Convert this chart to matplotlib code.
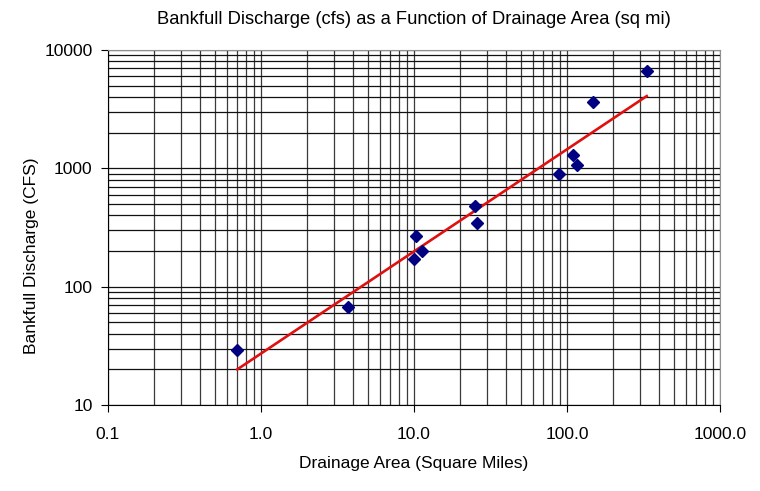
import numpy as np
import matplotlib
matplotlib.use("Agg")
import matplotlib.pyplot as plt
from matplotlib.ticker import LogLocator, FixedLocator, FixedFormatter, NullFormatter

plt.rcParams['font.family'] = ['Liberation Sans', 'DejaVu Sans']

# observed sites: drainage area (sq mi) and bankfull discharge (cfs)
area = [0.7, 3.7, 10.3, 10.0, 11.3, 25.0, 26.0, 89, 109, 116, 147, 332]
discharge = [29, 67, 268, 170, 200, 483, 343, 890, 1290, 1070, 3660, 6640]

# power trend line end points
trend_x = [0.7, 332]
trend_y = [20, 4080]

x_ticks = [0.1, 1, 10, 100, 1000]
x_labels = ['0.1', '1.0', '10.0', '100.0', '1000.0']
y_ticks = [10, 100, 1000, 10000]
y_labels = ['10', '100', '1000', '10000']

fig = plt.figure(figsize=(7.6, 4.91), dpi=100)
ax = fig.add_axes([108 / 760, 1 - 405 / 491, 612 / 760, 355 / 491])

ax.set_xscale('log')
ax.set_yscale('log')
ax.set_xlim(0.1, 1000)
ax.set_ylim(10, 10000)

ax.xaxis.set_major_locator(FixedLocator(x_ticks))
ax.xaxis.set_major_formatter(FixedFormatter(x_labels))
ax.yaxis.set_major_locator(FixedLocator(y_ticks))
ax.yaxis.set_major_formatter(FixedFormatter(y_labels))
ax.xaxis.set_minor_locator(LogLocator(base=10, subs=np.arange(2, 10)))
ax.yaxis.set_minor_locator(LogLocator(base=10, subs=np.arange(2, 10)))
ax.xaxis.set_minor_formatter(NullFormatter())
ax.yaxis.set_minor_formatter(NullFormatter())

ax.grid(True, axis='x', which='both', color='#3a3a3a', linewidth=0.9)
ax.grid(True, axis='y', which='both', color='#111111', linewidth=0.9)
ax.set_axisbelow(True)
ax.tick_params(which='major', direction='out', length=5, width=0.8, labelsize=12.5)
ax.tick_params(axis='x', which='major', pad=11)
ax.tick_params(axis='y', which='major', pad=6)
ax.tick_params(which='minor', length=0)

for side in ['top', 'right']:
    ax.spines[side].set_color('#909090')
for side in ['left', 'bottom']:
    ax.spines[side].set_color('black')
    ax.spines[side].set_linewidth(0.8)

ax.plot(trend_x, trend_y, color='#e01010', linewidth=1.9, zorder=3)
ax.plot(area, discharge, linestyle='none', marker='D', markersize=6,
        color='#000080', zorder=4)

ax.set_title('Bankfull Discharge (cfs) as a Function of Drainage Area (sq mi)',
             fontsize=13.2, pad=19)
ax.set_xlabel('Drainage Area (Square Miles)', fontsize=12.5, labelpad=10)
ax.set_ylabel('Bankfull Discharge (CFS)', fontsize=12.5)
ax.yaxis.set_label_coords(-0.112, 0.42)

fig.savefig('out.png', dpi=100)
